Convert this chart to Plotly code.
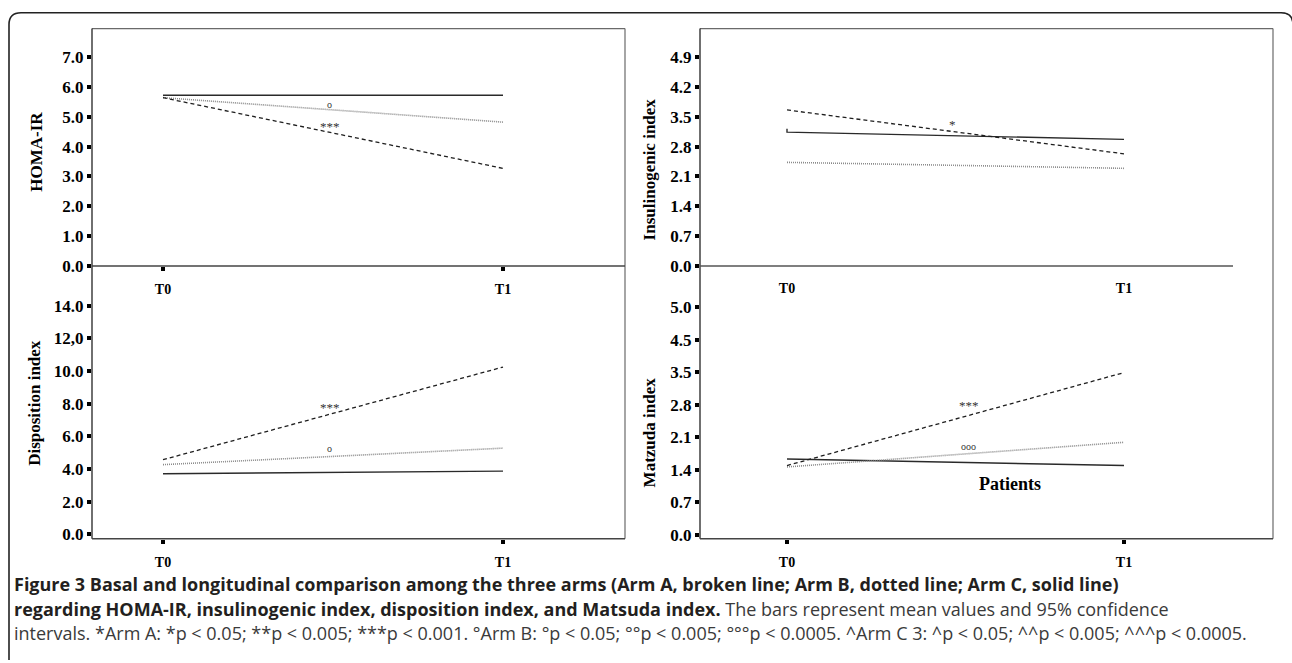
import plotly.graph_objects as go

W, H = 1292, 663

# ---------------- data ----------------
times = ["T0", "T1"]

# HOMA-IR
homa_A = [5.64, 3.27]   # Arm A, broken line
homa_B = [5.64, 4.82]   # Arm B, dotted line
homa_C = [5.72, 5.72]   # Arm C, solid line

# Insulinogenic index
ins_A = [3.66, 2.63]
ins_B = [2.43, 2.29]
ins_C_x = ["T0", "T0", "T1"]
ins_C = [3.22, 3.14, 2.97]

# Disposition index
disp_A = [4.57, 10.25]
disp_B = [4.27, 5.28]
disp_C = [3.71, 3.87]

# Matzuda index
mat_A = [1.49, 3.49]
mat_B = [1.46, 1.99]
mat_C = [1.63, 1.49]

# tick values / labels
homa_tickvals = [0, 1, 2, 3, 4, 5, 6, 7]
homa_ticktext = ["0.0", "1.0", "2.0", "3.0", "4.0", "5.0", "6.0", "7.0"]
ins_tickvals = [0, 0.7, 1.4, 2.1, 2.8, 3.5, 4.2, 4.9]
ins_ticktext = ["0.0", "0.7", "1.4", "2.1", "2.8", "3.5", "4.2", "4.9"]
disp_tickvals = [0, 2, 4, 6, 8, 10, 12, 14]
disp_ticktext = ["0.0", "2.0", "4.0", "6.0", "8.0", "10.0", "12,0", "14.0"]
mat_tickvals = [0, 0.7, 1.4, 2.1, 2.8, 3.5, 4.2, 4.9]
mat_ticktext = ["0.0", "0.7", "1.4", "2.1", "2.8", "3.5", "4.5", "5.0"]

# significance marks: (panel, x position, y value, text)
marks = [
    (1, 0.49, 5.41, "o"),
    (1, 0.49, 4.69, "***"),
    (2, 0.49, 3.33, "*"),
    (3, 0.49, 7.80, "***"),
    (3, 0.49, 5.28, "o"),
    (4, 0.54, 2.78, "***"),
    (4, 0.54, 1.91, "ooo"),
]

# ---------------- helpers ----------------
def fx(p):
    return p / W

def fy(p):
    return 1 - p / H

SERIF = "Liberation Serif"
fig = go.Figure()

styleA = dict(color="#1e1e1e", width=1.3, dash="4px,3px")
styleB = dict(color="#8a8a8a", width=1.6, dash="1px,1px")
styleC = dict(color="#2a2a2a", width=1.4)

panels = [
    ("x", "y", times, homa_A, times, homa_B, times, homa_C),
    ("x2", "y2", times, ins_A, times, ins_B, ins_C_x, ins_C),
    ("x3", "y3", times, disp_A, times, disp_B, times, disp_C),
    ("x4", "y4", times, mat_A, times, mat_B, times, mat_C),
]
for xa, ya, xA, yA, xB, yB, xC, yC in panels:
    fig.add_trace(go.Scatter(x=xC, y=yC, mode="lines", line=styleC,
                             xaxis=xa, yaxis=ya, showlegend=False, name="Arm C"))
    fig.add_trace(go.Scatter(x=xB, y=yB, mode="lines", line=styleB,
                             xaxis=xa, yaxis=ya, showlegend=False, name="Arm B"))
    fig.add_trace(go.Scatter(x=xA, y=yA, mode="lines", line=styleA,
                             xaxis=xa, yaxis=ya, showlegend=False, name="Arm A"))

tickfont = dict(family=SERIF, size=17, color="black", weight="bold")
xtickfont = dict(family=SERIF, size=14, color="black", weight="bold")

def yax(dom, rng, vals, text, anchor):
    return dict(domain=dom, range=rng, tickmode="array", tickvals=vals, ticktext=text,
                ticks="outside", ticklen=4, tickwidth=4, tickcolor="black",
                tickfont=tickfont, showgrid=False, zeroline=False, showline=False,
                anchor=anchor, fixedrange=True)

def xax(dom, rng, anchor, show_ticks=True, standoff=6):
    return dict(domain=dom, range=rng, type="category",
                ticks="outside" if show_ticks else "", ticklen=4, tickwidth=4,
                tickcolor="black", tickfont=xtickfont, showgrid=False,
                zeroline=False, showline=False, anchor=anchor,
                ticklabelstandoff=standoff, fixedrange=True)

# pixel geometry
L0, L1 = 92, 625       # left column x
R0, R1 = 700, 1273     # right column x
TOP = 29
MID = 270
BOT = 547
BTOP = 295

# x ranges (T0 at 163 / 787, T1 at 503 / 1124)
xl = [(L0 - 163) / 340, (L1 - 163) / 340]
xr = [(R0 - 787) / 337, (R1 - 787) / 337]

fig.update_layout(
    xaxis=xax([fx(L0), fx(L1)], xl, "y", True, 6),
    yaxis=yax([fy(MID), fy(TOP)], [0, (MID - TOP) / 30.29], homa_tickvals, homa_ticktext, "x"),
    xaxis2=xax([fx(R0), fx(R1)], xr, "y2", False, 12),
    yaxis2=yax([fy(MID), fy(TOP)], [0, (MID - TOP) / 43.27], ins_tickvals, ins_ticktext, "x2"),
    xaxis3=xax([fx(L0), fx(L1)], xl, "y3", True, 6),
    yaxis3=yax([fy(BOT), fy(BTOP)], [-(BOT - 542.5) / 16.57, (542.5 - BTOP) / 16.57],
               disp_tickvals, disp_ticktext, "x3"),
    xaxis4=xax([fx(R0), fx(R1)], xr, "y4", True, 6),
    yaxis4=yax([fy(BOT), fy(BTOP)], [-(BOT - 543) / 47.2, (543 - BTOP) / 47.2],
               mat_tickvals, mat_ticktext, "x4"),
)

shapes = []
def seg(x0, y0, x1, y1, color="#555555", width=1.3):
    shapes.append(dict(type="line", xref="paper", yref="paper",
                       x0=fx(x0), y0=fy(y0), x1=fx(x1), y1=fy(y1),
                       line=dict(color=color, width=width)))

# left column frame
seg(L0, TOP, L1, TOP, "#6a6a6a", 1.2)
seg(L1, TOP, L1, BOT, "#6a6a6a", 1.2)
seg(L0, TOP, L0, BOT, "#333333", 1.4)
seg(L0, MID, L1, MID, "#444444", 1.4)
seg(L0, BOT, L1, BOT, "#444444", 1.4)
# right column frame
seg(R0, TOP, R1, TOP, "#6a6a6a", 1.2)
seg(R1, TOP, R1, BOT, "#6a6a6a", 1.2)
seg(R0, TOP, R0, BOT, "#333333", 1.4)
seg(R0, MID, 1233, MID, "#555555", 1.4)
seg(R0, BOT, R1, BOT, "#444444", 1.4)

# outer rounded box
bx0, by0, bx1, by1, r = 9, 13, 1293, 670, 12
path = (f"M {fx(bx0)},{fy(by1)} L {fx(bx0)},{fy(by0 + r)} "
        f"Q {fx(bx0)},{fy(by0)} {fx(bx0 + r)},{fy(by0)} "
        f"L {fx(bx1 - r)},{fy(by0)} Q {fx(bx1)},{fy(by0)} {fx(bx1)},{fy(by0 + r)} "
        f"L {fx(bx1)},{fy(by1)}")
shapes.append(dict(type="path", xref="paper", yref="paper", path=path,
                   line=dict(color="#222222", width=1.6)))

annotations = []
axes_ref = {1: ("x", "y"), 2: ("x2", "y2"), 3: ("x3", "y3"), 4: ("x4", "y4")}
for p, xv, yv, txt in marks:
    xr_, yr_ = axes_ref[p]
    annotations.append(dict(x=xv, y=yv, xref=xr_, yref=yr_, text=txt, showarrow=False,
                            font=dict(family=SERIF, size=10 if "o" in txt else 13,
                                      color="#333333"),
                            xanchor="center", yanchor="middle"))

annotations.append(dict(x=0.662, y=1.10, xref="x4", yref="y4", text="Patients",
                        showarrow=False, font=dict(family=SERIF, size=18, color="black",
                                                   weight="bold"),
                        xanchor="center", yanchor="middle"))

# y-axis titles
for text, xp, yp in [("HOMA-IR", 37, 154), ("Insulinogenic index", 649, 172),
                     ("Disposition index", 35, 409), ("Matzuda index", 649, 439)]:
    annotations.append(dict(x=fx(xp), y=fy(yp), xref="paper", yref="paper", text=text,
                            textangle=-90, showarrow=False,
                            font=dict(family=SERIF, size=17, color="black", weight="bold"),
                            xanchor="center", yanchor="middle"))

# caption
BOLD = "#231f20"
REG = "#3a3a3a"
cap = [
    (f"<b><span style='color:{BOLD}'>Figure 3 Basal and longitudinal comparison among the three "
     f"arms (Arm A, broken line; Arm B, dotted line; Arm C, solid line)</span></b>", 593),
    (f"<b><span style='color:{BOLD}'>regarding HOMA-IR, insulinogenic index, disposition index, "
     f"and Matsuda index.</span></b> The bars represent mean values and 95% confidence", 618),
    ("intervals. *Arm A: *p &lt; 0.05; **p &lt; 0.005; ***p &lt; 0.001. °Arm B: °p &lt; 0.05; "
     "°°p &lt; 0.005; °°°p &lt; 0.0005. ^Arm C 3: ^p &lt; 0.05; ^^p &lt; 0.005; ^^^p &lt; 0.0005.", 643),
]
for text, yp in cap:
    annotations.append(dict(x=fx(12), y=fy(yp), xref="paper", yref="paper", text=text,
                            showarrow=False, align="left",
                            font=dict(family="Open Sans", size=18, color=REG),
                            xanchor="left", yanchor="middle"))

fig.update_layout(
    width=W, height=H,
    margin=dict(l=0, r=0, t=0, b=0),
    paper_bgcolor="white", plot_bgcolor="white",
    shapes=shapes, annotations=annotations,
    showlegend=False,
)

fig.write_html("out.html", config={"displayModeBar": False},
               post_script="document.body.style.margin='0';document.body.style.overflow='hidden';")
